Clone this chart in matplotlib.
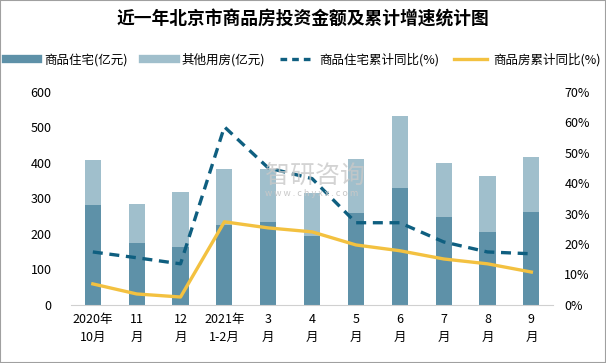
import numpy as np
import matplotlib
matplotlib.use("Agg")
from matplotlib import pyplot as plt
from matplotlib.lines import Line2D

plt.rcParams['font.family'] = ['Noto Sans CJK SC', 'DejaVu Sans']

# data
months = ['2020年\n10月', '11\n月', '12\n月', '2021年\n1-2月', '3\n月', '4\n月',
          '5\n月', '6\n月', '7\n月', '8\n月', '9\n月']
zhuzhai = [282, 175, 163, 225, 234, 194, 259, 330, 248, 206, 262]
qita = [126, 110, 155, 158, 149, 121, 152, 202, 152, 157, 155]
zhuzhai_yoy = [17.4, 15.5, 13.5, 58.5, 45.0, 41.5, 27.0, 27.0, 20.7, 17.4, 16.8]
fang_yoy = [6.9, 3.6, 2.6, 27.3, 25.3, 24.0, 19.7, 17.8, 15.1, 13.5, 10.8]

c_dark = '#5e91a8'
c_light = '#a0bfcc'
c_dash = '#0f5f80'
c_yellow = '#f3c140'

fig = plt.figure(figsize=(6.06, 3.63), dpi=100)
ax = fig.add_axes([0.117, 0.160, 0.796, 0.587])
ax2 = ax.twinx()

x = np.arange(len(months))
ax.bar(x, zhuzhai, width=0.37, color=c_dark, zorder=2)
ax.bar(x, qita, width=0.37, bottom=zhuzhai, color=c_light, zorder=2)

ax2.plot(x, zhuzhai_yoy, color=c_dash, lw=2.4, ls=(0, (3, 2)), zorder=3)
ax2.plot(x, fang_yoy, color=c_yellow, lw=2.4, zorder=3)

ax.set_xlim(-0.5, len(months) - 0.5)
ax.set_ylim(0, 600)
ax.set_yticks(range(0, 601, 100))
ax2.set_ylim(0, 70)
ax2.set_yticks(range(0, 71, 10))
ax2.set_yticklabels([f'{v}%' for v in range(0, 71, 10)])
ax.set_xticks(x)
ax.set_xticklabels(months, fontsize=9, linespacing=1.5)

for a in (ax, ax2):
    for s in a.spines.values():
        s.set_visible(False)
    a.tick_params(length=0, labelsize=9)
ax.spines['bottom'].set_visible(True)
ax.spines['bottom'].set_color('#d0d0d0')
ax.tick_params(axis='y', pad=14)
ax2.tick_params(axis='y', pad=8)
ax.tick_params(axis='x', pad=6)

# watermark
fig.text(0.437, 0.515, '智研咨询', fontsize=18, color='#c8c8c8', alpha=0.8,
         ha='left', va='center', zorder=10)
fig.text(0.437, 0.468, 'w w w . c h y x x . c o m', fontsize=6.5, color='#c8c8c8',
         ha='left', va='center', zorder=10)

fig.text(0.5, 0.945, '近一年北京市商品房投资金额及累计增速统计图', fontsize=12.8,
         fontweight='bold', ha='center', va='center')

handles = [Line2D([], [], color=c_dark, lw=6),
           Line2D([], [], color=c_light, lw=6),
           Line2D([], [], color=c_dash, lw=2.4, ls=(0, (2, 1.5))),
           Line2D([], [], color=c_yellow, lw=2.4)]
labels = ['商品住宅(亿元)', '其他用房(亿元)', '商品住宅累计同比(%)', '商品房累计同比(%)']
fig.legend(handles, labels, loc='center', bbox_to_anchor=(0.5, 0.835), ncol=4,
           frameon=False, fontsize=9, handlelength=2.6, columnspacing=1.2,
           handletextpad=0.5)

fig.patches.append(plt.Rectangle((0, 0), 1, 1, transform=fig.transFigure,
                                 fill=False, edgecolor='#a0a0a0', lw=1.5))

fig.savefig('out.png', dpi=100)
